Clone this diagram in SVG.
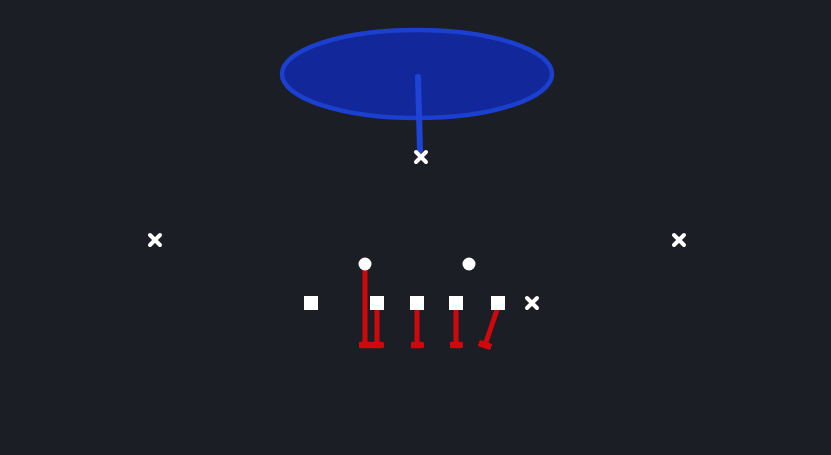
<svg xmlns="http://www.w3.org/2000/svg" width="831" height="455" viewBox="0 0 831 455">
<defs>
<style>
.x{stroke:#ffffff;stroke-width:4;stroke-linecap:round}
.o{fill:#ffffff}
.route{stroke:#d0080c;stroke-width:5;stroke-linecap:round;fill:none}
</style>
<marker id="tee" viewBox="-6 -6 12 12" markerWidth="2.6" markerHeight="2.6" orient="auto" markerUnits="strokeWidth">
<path d="M0,-4 L0,4" stroke="#d0080c" stroke-width="6" stroke-linecap="round"/>
</marker>
</defs>
<rect width="831" height="455" fill="#1b1e24"/>
<g id="zone">
<ellipse cx="417" cy="74" rx="135" ry="44" fill="#12279a" stroke="#1b40d0" stroke-width="4.5"/>
</g>
<g id="connectors">
<line x1="418" y1="77" x2="420" y2="150" stroke="#1d44d6" stroke-width="6" stroke-linecap="round"/>
<line class="route" x1="365" y1="270" x2="365" y2="345" marker-end="url(#tee)"/>
<line class="route" x1="377" y1="310" x2="377" y2="345" marker-end="url(#tee)"/>
<line class="route" x1="417" y1="310" x2="417" y2="345" marker-end="url(#tee)"/>
<line class="route" x1="456" y1="310" x2="456" y2="345" marker-end="url(#tee)"/>
<line class="route" x1="497" y1="310" x2="485" y2="345" marker-end="url(#tee)"/>
</g>
<g id="d1"><path class="x" d="M416,152 L426,162 M426,152 L416,162"/></g>
<g id="d2"><path class="x" d="M150,235 L160,245 M160,235 L150,245"/></g>
<g id="d3"><path class="x" d="M674,235 L684,245 M684,235 L674,245"/></g>
<g id="d4"><path class="x" d="M527,298 L537,308 M537,298 L527,308"/></g>
<g id="b1"><circle class="o" cx="365" cy="264" r="6.5"/></g>
<g id="b2"><circle class="o" cx="469" cy="264" r="6.5"/></g>
<g id="l1"><rect class="o" x="304" y="296" width="14" height="14"/></g>
<g id="l2"><rect class="o" x="370" y="296" width="14" height="14"/></g>
<g id="l3"><rect class="o" x="410" y="296" width="14" height="14"/></g>
<g id="l4"><rect class="o" x="449" y="296" width="14" height="14"/></g>
<g id="l5"><rect class="o" x="491" y="296" width="14" height="14"/></g>
</svg>
